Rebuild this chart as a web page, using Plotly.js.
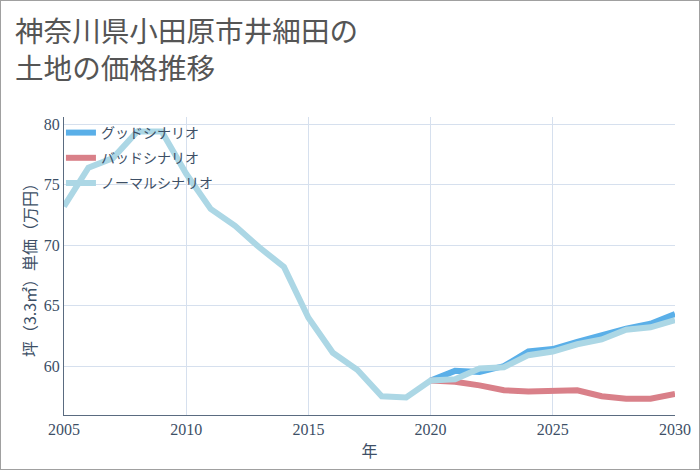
<!DOCTYPE html>
<html>
<head>
<meta charset="utf-8">
<script src="https://cdn.plot.ly/plotly-3.0.1.min.js"></script>
<style>
html,body{margin:0;padding:0;background:#fff;}
#chart{width:700px;height:470px;box-sizing:border-box;border:1px solid #a0a0a0;}
</style>
</head>
<body>
<div id="chart"></div>
<script>
const years = [2005,2006,2007,2008,2009,2010,2011,2012,2013,2014,2015,2016,2017,2018,2019,2020,2021,2022,2023,2024,2025,2026,2027,2028,2029,2030];
const normalValues = [73.2,76.4,77.2,79.4,79.4,75.9,73.0,71.6,69.8,68.2,64.0,61.1,59.7,57.5,57.4,58.8,58.9,59.8,59.9,60.9,61.2,61.8,62.2,63.0,63.2,63.8];
const futureYears = [2020,2021,2022,2023,2024,2025,2026,2027,2028,2029,2030];
const goodValues = [58.8,59.6,59.5,60.0,61.2,61.4,62.0,62.6,63.1,63.5,64.3];
const badValues  = [58.8,58.7,58.4,58.0,57.9,57.9,58.0,57.5,57.3,57.3,57.7];
const seriesNames = ["グッドシナリオ","バッドシナリオ","ノーマルシナリオ"];
const titleText = "神奈川県小田原市井細田の<br>土地の価格推移";
const xTitle = "年";
const yTitle = "坪（3.3㎡）単価（万円）";
const xTicks = [2005,2010,2015,2020,2025,2030];
const yTicks = [60,65,70,75,80];

const cjk = '"Noto Sans CJK JP", "Noto Sans", sans-serif';
const num = '"Liberation Serif", serif';

const traces = [
  {x: futureYears, y: goodValues, name: seriesNames[0], type: 'scatter', mode: 'lines',
   legendgroup: 'g', line: {color: '#5aafe8', width: 6}},
  {x: futureYears, y: badValues, name: seriesNames[1], type: 'scatter', mode: 'lines',
   legendgroup: 'b', line: {color: '#d98089', width: 6}},
  {x: years, y: normalValues, name: seriesNames[2], type: 'scatter', mode: 'lines',
   legendgroup: 'n', line: {color: '#acd7e5', width: 6}}
];

const layout = {
  width: 698, height: 468,
  margin: {l: 63, r: 24, t: 116, b: 54},
  paper_bgcolor: '#ffffff', plot_bgcolor: '#ffffff',
  title: {text: titleText, x: 0.02, xanchor: 'left', y: 0.913, yanchor: 'top',
          font: {family: cjk, size: 28.6, color: '#555555'}},
  showlegend: true,
  legend: {x: -0.005, y: 1.0, xanchor: 'left', yanchor: 'top', bgcolor: 'rgba(0,0,0,0)',
           traceorder: 'grouped', tracegroupgap: 4,
           font: {family: cjk, size: 14, color: '#3d4f66'}},
  xaxis: {range: [2005, 2030], tickvals: xTicks, ticktext: xTicks.map(String),
          showgrid: true, gridcolor: '#d6e0ee', zeroline: false,
          showline: true, linecolor: '#5a6b80', linewidth: 1, ticks: '',
          tickfont: {family: num, size: 16, color: '#3d4f66'},
          title: {text: xTitle, font: {family: cjk, size: 16, color: '#3d4f66'}, standoff: 8}},
  yaxis: {range: [55.95, 80.6], tickvals: yTicks, ticktext: yTicks.map(String),
          showgrid: true, gridcolor: '#d6e0ee', zeroline: false,
          showline: true, linecolor: '#5a6b80', linewidth: 1, ticks: '',
          tickfont: {family: num, size: 16, color: '#3d4f66'},
          title: {text: yTitle, font: {family: cjk, size: 16, color: '#3d4f66'}, standoff: 3}}
};

Plotly.newPlot('chart', traces, layout, {displayModeBar: false, staticPlot: true});
</script>
</body>
</html>
